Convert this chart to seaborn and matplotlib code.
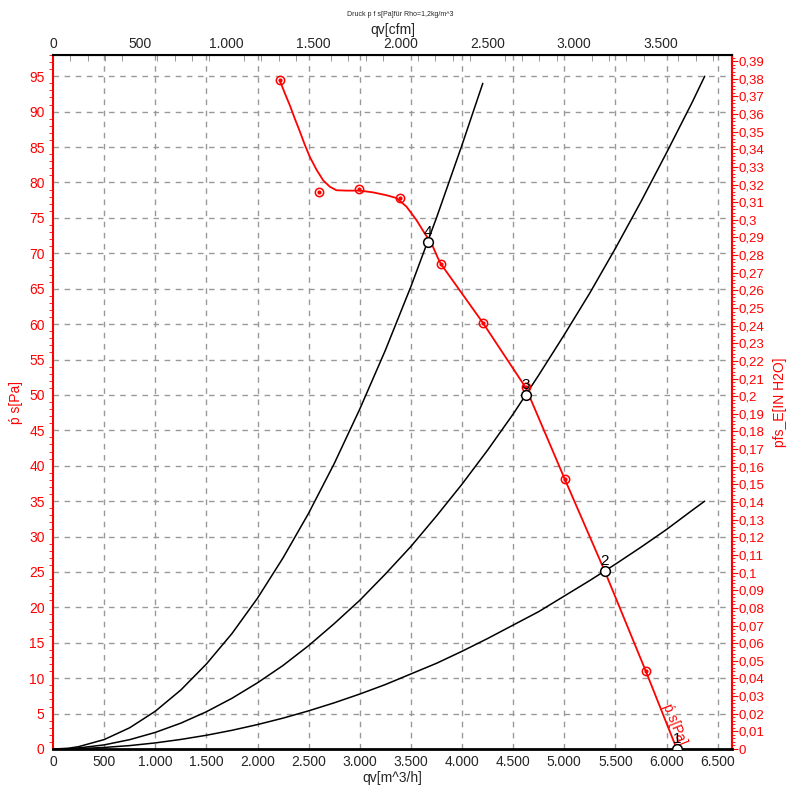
import numpy as np
import pandas as pd
import matplotlib.pyplot as plt
import matplotlib.ticker as mticker
import seaborn as sns

# fan curve, q in m^3/h, p in Pa
fan_q = [2218, 2267, 2316, 2365, 2414, 2463, 2512, 2577, 2642, 2707, 2772, 2870, 3000,
         3130, 3261, 3359, 3456, 3554, 3635, 3701, 3765, 3793, 4203, 4624, 5005, 5396,
         5797, 6100]
fan_p = [94.4, 92.6, 90.9, 89.0, 87.2, 85.3, 83.6, 81.8, 80.3, 79.4, 78.9, 78.85, 78.85,
         78.6, 78.2, 77.8, 76.6, 74.7, 72.8, 71.4, 69.3, 68.5, 60.2, 51.0, 38.1, 25.1,
         11.0, 0.0]

# measured points (circle markers)
meas_q = [2219, 2600, 2991, 3392, 3793, 4203, 4624, 5005, 5797]
meas_p = [94.4, 78.7, 79.1, 77.8, 68.5, 60.2, 51.1, 38.1, 11.0]

# system curves
sysA_q = [0, 150, 250, 500, 750, 1000, 1250, 1500, 1750, 2000, 2250, 2500, 2750, 3000,
          3250, 3500, 3750, 4000, 4203]
sysA_p = [0, 0.1, 0.33, 1.33, 3.0, 5.33, 8.33, 12.0, 16.3, 21.3, 27.0, 33.3, 40.3, 48.0,
          56.3, 65.3, 75.0, 85.3, 94.0]
sys_q = [0, 150, 250, 500, 750, 1000, 1250, 1500, 1750, 2000, 2250, 2500, 2750, 3000,
         3250, 3500, 3750, 4000, 4250, 4500, 4750, 5000, 5250, 5500, 5750, 6000, 6250, 6373]
sysB_p = [0, 0.05, 0.15, 0.58, 1.32, 2.34, 3.65, 5.26, 7.16, 9.35, 11.8, 14.6, 17.7, 21.0,
          24.7, 28.6, 32.9, 37.4, 42.2, 47.3, 52.8, 58.5, 64.4, 70.7, 77.3, 84.2, 91.3, 95.0]
sysC_p = [0, 0.02, 0.05, 0.22, 0.48, 0.86, 1.35, 1.94, 2.64, 3.45, 4.36, 5.39, 6.52, 7.76,
          9.10, 10.6, 12.1, 13.8, 15.6, 17.5, 19.4, 21.6, 23.8, 26.1, 28.5, 31.0, 33.7, 35.0]

# operating points
op_labels = ['1', '2', '3', '4']
op_q = [6100, 5396, 4624, 3666]
op_p = [0.0, 25.1, 50.0, 71.6]

sns.set_style("white")
plt.rcParams['font.family'] = ['Liberation Sans', 'DejaVu Sans']

fig = plt.figure(figsize=(8.01, 7.97), dpi=100)
ax = fig.add_axes([53 / 801, 48 / 797, (732 - 53) / 801, (749 - 55) / 797])

grid_kw = dict(color='#999999', linestyle=(0, (4, 4)), linewidth=1, zorder=0)
for gx in range(500, 6501, 500):
    ax.axvline(gx, **grid_kw)
for gy in range(5, 96, 5):
    ax.axhline(gy, **grid_kw)

# system curves
curves = pd.concat([
    pd.DataFrame({'q': sysA_q, 'p': sysA_p, 'c': 'A'}),
    pd.DataFrame({'q': sys_q, 'p': sysB_p, 'c': 'B'}),
    pd.DataFrame({'q': sys_q, 'p': sysC_p, 'c': 'C'}),
])
sns.lineplot(data=curves, x='q', y='p', units='c', estimator=None, sort=False,
             color='black', linewidth=1.1, ax=ax, legend=False)

# fan curve
fan = pd.DataFrame({'q': fan_q, 'p': fan_p})
sns.lineplot(data=fan, x='q', y='p', sort=False, color='#ff0000', linewidth=1.3, ax=ax)
ax.plot(meas_q, meas_p, linestyle='none', marker='o', ms=6, mfc='none', mec='#ff0000', mew=1.1)
ax.plot(meas_q, meas_p, linestyle='none', marker='o', ms=2, color='#ff0000')

ax.text(6080, 3.5, 'ṕ s[Pa]', color='#ff0000', rotation=-68, fontsize=10,
        ha='center', va='center', rotation_mode='anchor')

# operating points
ax.plot(op_q, op_p, linestyle='none', marker='o', ms=7, mfc='white', mec='black', mew=1.1, zorder=5)
for lab, q, p in zip(op_labels, op_q, op_p):
    ax.annotate(lab, (q, p), xytext=(0, 2), textcoords='offset points',
                ha='center', va='bottom', fontsize=11, color='black', zorder=6)

ax.set_xlim(0, 6640)
ax.set_ylim(0, 98)
ax.set_xlabel('qv[m^3/h]', fontsize=10, labelpad=2)
ax.set_ylabel('ṕ s[Pa]', fontsize=10, color='#ff0000', labelpad=4)

thousands = mticker.FuncFormatter(lambda v, _: f"{v:,.0f}".replace(',', '.'))
ax.xaxis.set_major_locator(mticker.MultipleLocator(500))
ax.xaxis.set_major_formatter(thousands)
ax.tick_params(axis='x', length=0, pad=4, labelsize=10)
ax.yaxis.set_major_locator(mticker.MultipleLocator(5))
ax.yaxis.set_minor_locator(mticker.MultipleLocator(1))
ax.tick_params(axis='y', which='major', length=5, color='#ff0000', labelcolor='#ff0000', labelsize=10, pad=1)
ax.tick_params(axis='y', which='minor', length=3, color='#ff0000', left=True)

for s in ['left', 'right']:
    ax.spines[s].set_color('#ff0000')
    ax.spines[s].set_linewidth(1.5)
ax.spines['bottom'].set_linewidth(2)
ax.spines['top'].set_linewidth(1.5)
ax.spines['bottom'].set_color('black')
ax.spines['top'].set_color('black')

# top axis in cfm
top = ax.secondary_xaxis('top', functions=(lambda q: q / 1.699, lambda c: c * 1.699))
top.xaxis.set_major_locator(mticker.MultipleLocator(500))
top.xaxis.set_minor_locator(mticker.MultipleLocator(100))
top.xaxis.set_major_formatter(thousands)
top.tick_params(which='major', length=0, pad=3, labelsize=10)
top.tick_params(which='minor', length=4, direction='in', color='#888888')
top.set_xlabel('qv[cfm]', fontsize=10, labelpad=2)

# right axis in inH2O
right = ax.secondary_yaxis('right', functions=(lambda p: p / 249.089, lambda h: h * 249.089))
right.yaxis.set_major_locator(mticker.MultipleLocator(0.01))
right.yaxis.set_minor_locator(mticker.MultipleLocator(0.002))
right.yaxis.set_major_formatter(mticker.FuncFormatter(
    lambda v, _: f"{v:.2f}".rstrip('0').rstrip('.').replace('.', ',')))
right.tick_params(which='major', length=4, color='#ff0000', labelcolor='#ff0000', labelsize=9.5, pad=1)
right.tick_params(which='minor', length=2, color='#ff0000')
right.spines['right'].set_color('#ff0000')
right.spines['right'].set_linewidth(1.5)
right.set_ylabel('pfs_E[IN H2O]', fontsize=10, color='#ff0000', labelpad=6)

fig.text(400 / 801, 1 - 14 / 797, 'Druck p f s[Pa]für Rho=1,2kg/m^3', fontsize=5,
         ha='center', va='center')

plt.savefig('out.png', dpi=100)
